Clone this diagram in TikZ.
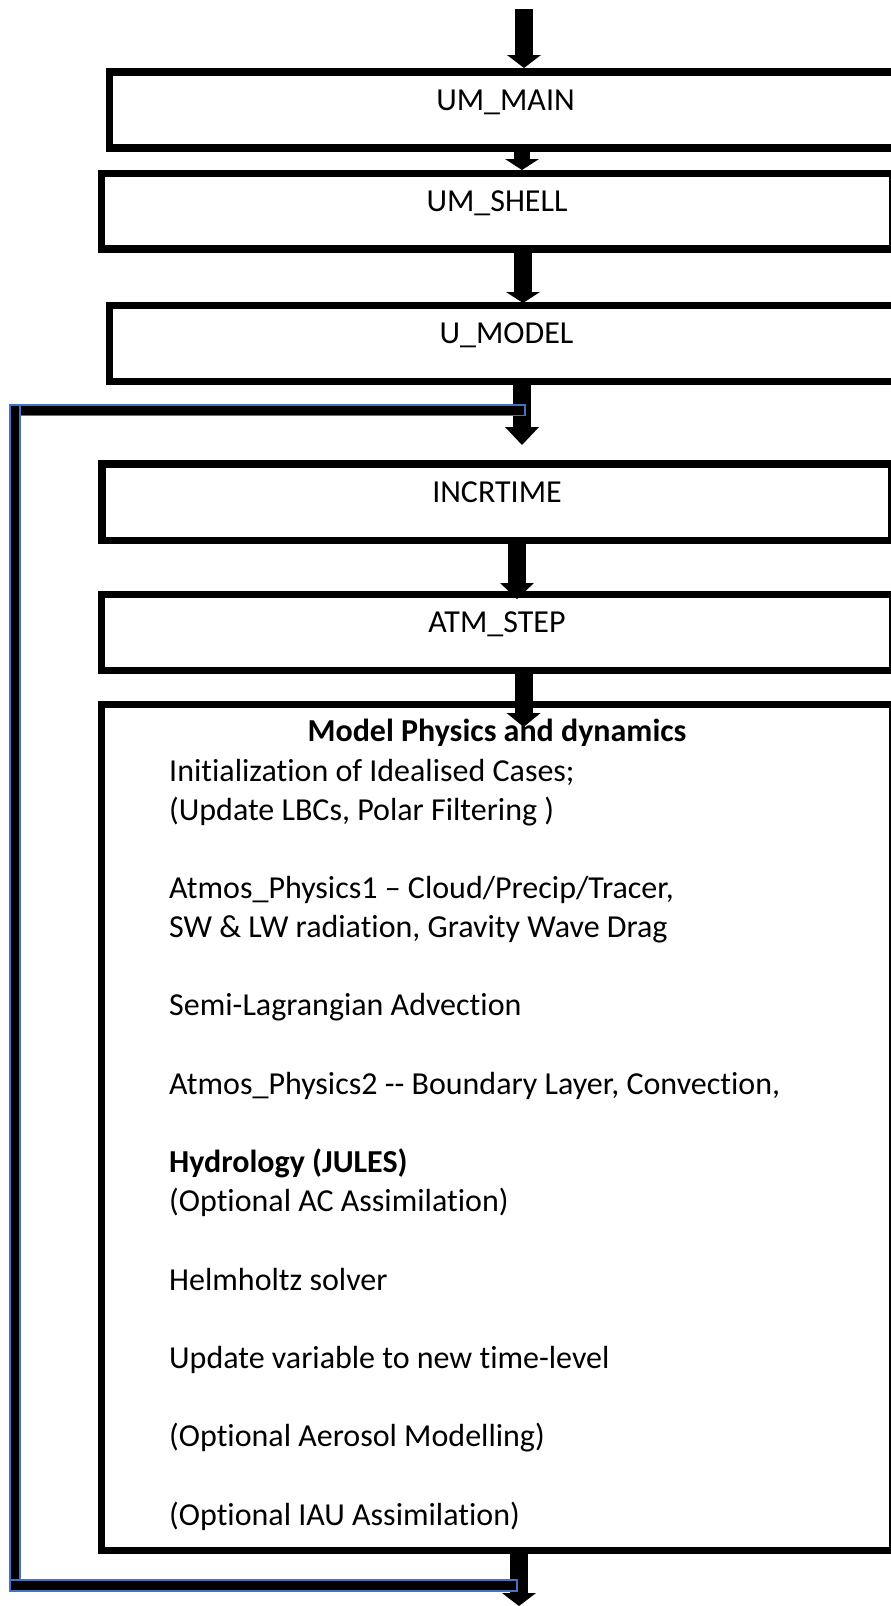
\documentclass[tikz,border=0pt]{standalone}
\usepackage{fontspec}
\setmainfont{Carlito}[Ligatures={TeX,NoCommon}]
\usetikzlibrary{arrows.meta}
\definecolor{loopblue}{HTML}{4472C4}
\begin{document}
\begin{tikzpicture}[x=1pt,y=-1pt,
  box/.style={draw=black, line width=7.5pt, line join=miter, rectangle, inner sep=0pt, outer sep=0pt},
  lbl/.style={font=\fontsize{32}{39.15}\selectfont, anchor=base, inner sep=0pt},
  ttl/.style={font=\fontsize{32}{39.15}\selectfont\bfseries, anchor=base, inner sep=0pt},
  body/.style={font=\fontsize{32}{39.15}\selectfont, anchor=base west, inner sep=0pt},
  bigarrow/.style={draw=black, line width=18pt, -{Triangle[width=34pt,length=#1,line width=0pt]}},
  bigarrow/.default=13pt,
  loopbar/.style={fill=black, draw=loopblue, line width=1.5pt}]
\useasboundingbox (0,0) rectangle (891,1606);
\fill[white] (0,0) rectangle (891,1606);
\clip (0,0) rectangle (891,1606);

% boxes
\node[box, minimum width=792pt, minimum height=76pt] (mainbox) at (505.5,110) {};
\node[box, minimum width=791pt, minimum height=75.7pt] (shellbox) at (497,211.2) {};
\node[box, minimum width=794pt, minimum height=76pt] (modelbox) at (506.5,343.7) {};
\node[box, minimum width=790.4pt, minimum height=76.3pt] (incrbox) at (497,502.2) {};
\node[box, minimum width=791pt, minimum height=76pt] (atmbox) at (497,632.3) {};
\node[box, minimum width=791pt, minimum height=846pt] (physbox) at (497,1127.3) {};

% labels
\node[lbl] (mainlbl) at (mainbox.center) {UM\_MAIN};
\node[lbl] (shelllbl) at (shellbox.center) {UM\_SHELL};
\node[lbl] (modellbl) at (modelbox.center) {U\_MODEL};
\node[lbl] (incrlbl) at (incrbox.center) {INCRTIME};
\node[lbl] (atmlbl) at (atmbox.center) {ATM\_STEP};

\node[ttl] (title) at (497,741.7) {Model Physics and dynamics};
\node[body] (l1) at (169,781) {Initialization of Idealised Cases;};
\node[body] (l2) at (169,820.2) {(Update LBCs, Polar Filtering )};
\node[body] (l3) at (169,898.5) {Atmos\_Physics1 – Cloud/Precip/Tracer,};
\node[body] (l4) at (169,937.6) {SW \& LW radiation, Gravity Wave Drag};
\node[body] (l5) at (169,1015.9) {Semi-Lagrangian Advection};
\node[body] (l6) at (169,1094.2) {Atmos\_Physics2 -{}- Boundary Layer, Convection,};
\node[body] (l7) at (169,1172.6) {\bfseries Hydrology (JULES)};
\node[body] (l8) at (169,1211.7) {(Optional AC Assimilation)};
\node[body] (l9) at (169,1290.1) {Helmholtz solver};
\node[body] (l10) at (169,1368.4) {Update variable to new time-level};
\node[body] (l11) at (169,1446.7) {(Optional Aerosol Modelling)};
\node[body] (l12) at (169,1525) {(Optional IAU Assimilation)};

% arrows
\coordinate (in0) at (524,9);
\coordinate (tip1) at (524,68);
\coordinate (tip2) at (522,170);
\coordinate (tip3) at (523,303);
\coordinate (tip4) at (522,445);
\coordinate (tip5) at (517,599);
\coordinate (tip6) at (523.6,727);
\coordinate (tip7) at (519,1606);
\draw[bigarrow=13pt] (in0) -- (tip1);
\draw[bigarrow=11pt, line width=16pt] (mainbox.south -| tip2) -- (tip2);
\draw[bigarrow=11pt] (shellbox.south -| tip3) -- (tip3);
\draw[bigarrow=18pt] (modelbox.south -| tip4) -- (tip4);
\draw[bigarrow=16pt] (incrbox.south -| tip5) -- (tip5);
\draw[bigarrow=14pt] (atmbox.south -| tip6) -- (tip6);
\draw[bigarrow=13pt] (physbox.south -| tip7) -- (tip7);

% loop-back bars
\draw[loopbar] (9.75,404.75) rectangle (19.95,1580);
\draw[loopbar] (19.95,404.75) rectangle (525,415.25);
\draw[loopbar] (9.75,1580) rectangle (517,1591);
\end{tikzpicture}
\end{document}
